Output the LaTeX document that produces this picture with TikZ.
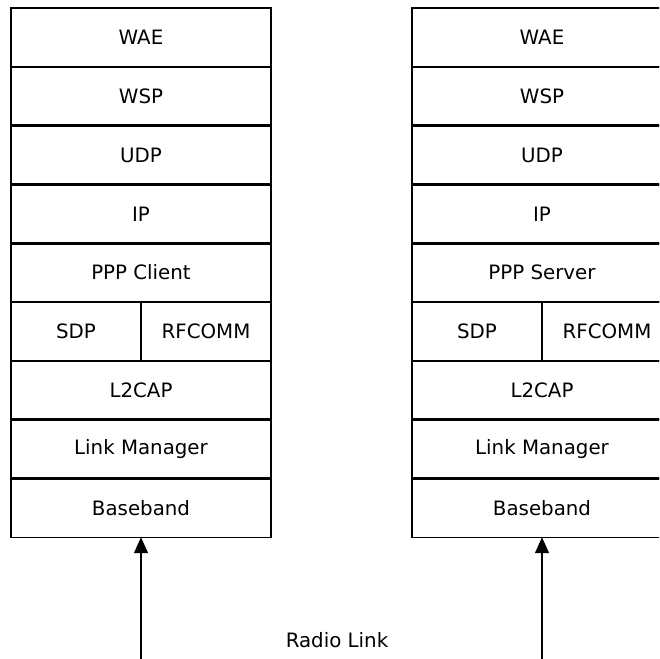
\documentclass[tikz,border=0pt]{standalone}
\usepackage{fontspec}
\setmainfont{DejaVu Sans}
\usetikzlibrary{positioning}
\usetikzlibrary{arrows.meta}

\begin{document}
\begin{tikzpicture}[x=1pt,y=-1pt,>/.tip={Triangle[width=14pt,length=16pt]},
	layer/.style={draw,line width=1.2pt,outer sep=0pt,inner sep=0pt,minimum width=260pt,minimum height=58.8pt,font=\fontsize{19.8}{24}\selectfont},
	half/.style={layer,minimum width=130pt},
	sep/.style={line width=2.6pt}]
	\useasboundingbox (0,0) rectangle (659,659);
	\clip (0,0) rectangle (659,659);
	% client stack
	\node [layer,anchor=north west] (wae1) at (11,8) {WAE};
	\node [layer,below=0pt of wae1] (wsp1) {WSP};
	\node [layer,below=0pt of wsp1] (udp1) {UDP};
	\node [layer,below=0pt of udp1] (ip1) {IP};
	\node [layer,below=0pt of ip1] (ppp1) {PPP Client};
	\node [half,anchor=north west] (sdp1) at (ppp1.south west) {SDP};
	\node [half,right=0pt of sdp1] (rfc1) {RFCOMM};
	\node [layer,anchor=north west] (l2cap1) at (sdp1.south west) {L2CAP};
	\node [layer,below=0pt of l2cap1] (lm1) {Link Manager};
	\node [layer,below=0pt of lm1] (bb1) {Baseband};
	% server stack
	\node [layer,anchor=north west] (wae2) at (412,8) {WAE};
	\node [layer,below=0pt of wae2] (wsp2) {WSP};
	\node [layer,below=0pt of wsp2] (udp2) {UDP};
	\node [layer,below=0pt of udp2] (ip2) {IP};
	\node [layer,below=0pt of ip2] (ppp2) {PPP Server};
	\node [half,anchor=north west] (sdp2) at (ppp2.south west) {SDP};
	\node [half,right=0pt of sdp2] (rfc2) {RFCOMM};
	\node [layer,anchor=north west] (l2cap2) at (sdp2.south west) {L2CAP};
	\node [layer,below=0pt of l2cap2] (lm2) {Link Manager};
	\node [layer,below=0pt of lm2] (bb2) {Baseband};
	% row separators
	\draw [sep] (wsp1.north west) -- (wsp1.north east) (udp1.north west) -- (udp1.north east)
		(ip1.north west) -- (ip1.north east) (ppp1.north west) -- (ppp1.north east)
		(sdp1.north west) -- (rfc1.north east) (l2cap1.north west) -- (l2cap1.north east)
		(lm1.north west) -- (lm1.north east) (bb1.north west) -- (bb1.north east);
	\draw [sep] (wsp2.north west) -- (wsp2.north east) (udp2.north west) -- (udp2.north east)
		(ip2.north west) -- (ip2.north east) (ppp2.north west) -- (ppp2.north east)
		(sdp2.north west) -- (rfc2.north east) (l2cap2.north west) -- (l2cap2.north east)
		(lm2.north west) -- (lm2.north east) (bb2.north west) -- (bb2.north east);
	% radio link
	\coordinate (air1) at (bb1.south |- 0,670);
	\coordinate (air2) at (bb2.south |- 0,670);
	\draw [->,line width=1.2pt] (air1) -- (bb1.south);
	\draw [->,line width=1.2pt] (air2) -- (bb2.south);
	\node [font=\fontsize{19.8}{24}\selectfont] (radio) at (337,640) {Radio Link};
\end{tikzpicture}
\end{document}
